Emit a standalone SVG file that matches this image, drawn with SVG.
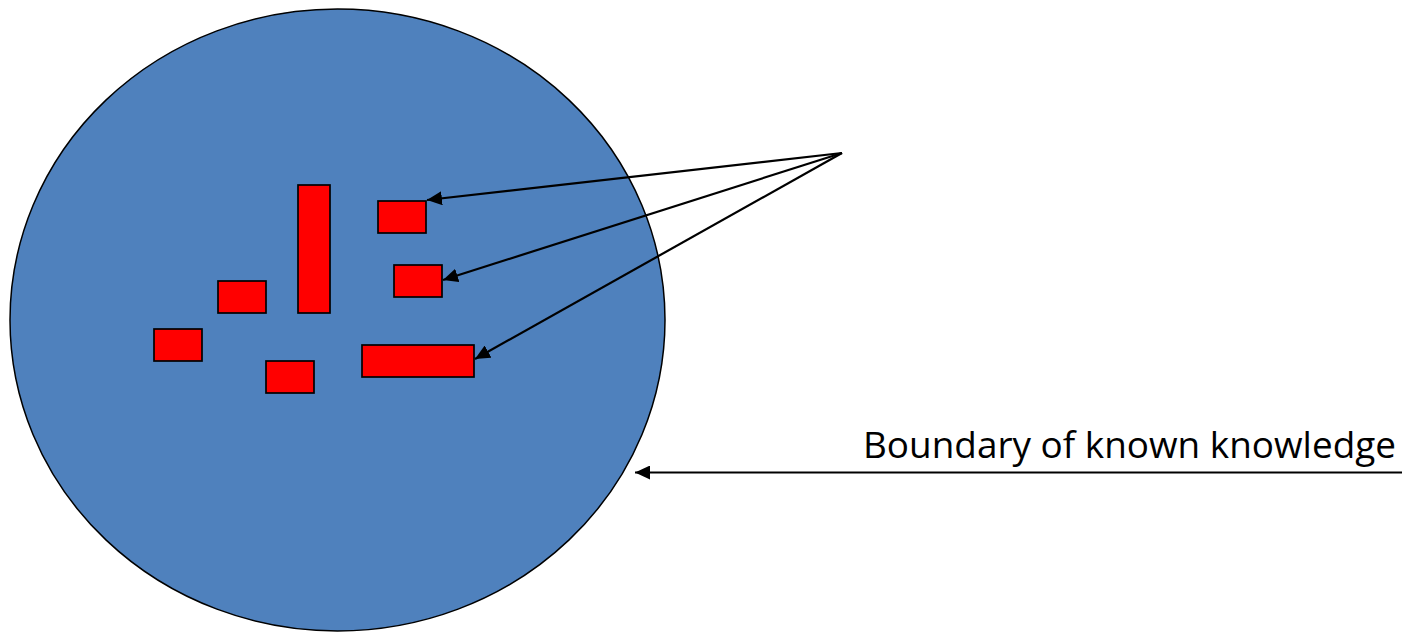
<svg xmlns="http://www.w3.org/2000/svg" width="1419" height="633" viewBox="0 0 1419 633">
<style>
.box{fill:#ff0000;stroke:#000;stroke-width:1.7}
.conn{stroke:#000;stroke-width:2.2;fill:none;marker-end:url(#ah)}
.lbl{font-family:"Open Sans","Liberation Sans",sans-serif;font-size:37px;fill:#000}
</style>
<defs>
<marker id="ah" markerUnits="userSpaceOnUse" markerWidth="16" markerHeight="14" refX="15" refY="7" orient="auto">
<path d="M0,0 L15,7 L0,14 z" fill="#000"/>
</marker>
</defs>
<rect width="1419" height="633" fill="#fff"/>
<g id="boundary">
<ellipse cx="337.5" cy="320" rx="327.5" ry="311" fill="#4f81bd" stroke="#000" stroke-width="1.5"/>
</g>
<g id="b1"><rect class="box" x="298" y="185" width="32" height="128"/></g>
<g id="b2"><rect class="box" x="378" y="201" width="48" height="32"/></g>
<g id="b3"><rect class="box" x="394" y="265" width="48" height="32"/></g>
<g id="b4"><rect class="box" x="218" y="281" width="48" height="32"/></g>
<g id="b5"><rect class="box" x="154" y="329" width="48" height="32"/></g>
<g id="b6"><rect class="box" x="266" y="361" width="48" height="32"/></g>
<g id="b7"><rect class="box" x="362" y="345" width="112" height="32"/></g>
<g id="label"><text class="lbl" x="863" y="458" textLength="533" lengthAdjust="spacingAndGlyphs">Boundary of known knowledge</text></g>
<g id="connectors">
<line class="conn" x1="842" y1="153" x2="427" y2="200"/>
<line class="conn" x1="842" y1="153" x2="443" y2="280"/>
<line class="conn" x1="842" y1="153" x2="475" y2="359"/>
<line class="conn" x1="1402" y1="472.5" x2="635" y2="472.5"/>
</g>
</svg>
